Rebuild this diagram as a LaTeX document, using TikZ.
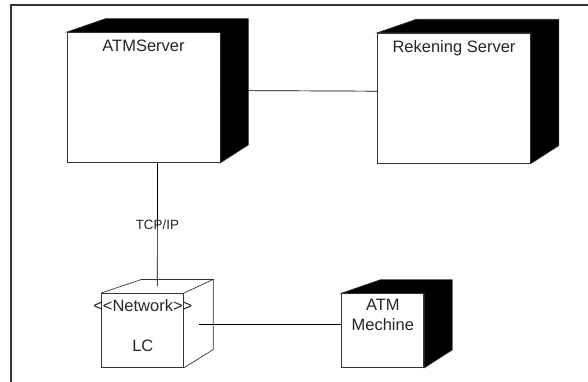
\documentclass[tikz,border=0pt]{standalone}
\usepackage{fontspec}
\setmainfont{Liberation Sans}
\usetikzlibrary{calc}
\begin{document}
\begin{tikzpicture}[x=1pt, y=-1pt, line width=0.7pt,
	nodeface/.style={draw=black!80, fill=white, minimum width=153pt, minimum height=130pt, inner sep=0pt},
	smallface/.style={nodeface, minimum width=82pt, minimum height=74pt},
	txt/.style={font=\fontsize{16.5}{19.7}\selectfont, text=black!85, inner sep=0pt, align=center},
	backface/.style={fill=black, draw=black!80}]
	\useasboundingbox (0,0) rectangle (588,382);
	\draw[line width=1.5pt, black!80] (11,382) -- (11,5) -- (588,5);
	\node[nodeface, label={[txt, anchor=north, yshift=-7pt]north:ATMServer}] (srv) at (143.5,97.5) {};
	\node[nodeface, label={[txt, anchor=north, yshift=-7pt]north:Rekening Server}] (rek) at (454,98.2) {};
	\node[smallface, label={[txt, anchor=north, yshift=-6pt]north:ATM\\Mechine}] (atm) at (382.8,330.6) {};
	\node[smallface, fill=none, label={[txt, anchor=north, yshift=-6.5pt]north:<\kern0pt<Network>\kern0pt>}, label={[txt, anchor=south, yshift=15.7pt]south:LC}] (lc) at (142.8,330.3) {};
	% schaduw
	\foreach \n in {srv,rek,atm}
		\filldraw[backface] (\n.north west) -- ($(\n.north west)+(39,-13.5)$) -- ($(\n.north east)+(28,-13.5)$) -- ($(\n.south east)+(28,-18)$) -- (\n.south east) -- (\n.north east) -- cycle;
	\draw[black!80] (lc.north west) -- ($(lc.north west)+(40,-13.5)$) -- ($(lc.north east)+(29,-13.5)$) -- (lc.north east);
	\draw[black!80] ($(lc.north east)+(29,-13.5)$) -- ($(lc.south east)+(29,-18)$) -- (lc.south east);
	% verbindingen
	\draw ([yshift=7pt]srv.east) -- ([yshift=7pt]rek.west);
	\draw ([xshift=14pt]srv.south) -- node[font=\fontsize{13.4}{16}\selectfont, text=black!85, inner sep=0pt] {TCP/IP} ([xshift=14.5pt, yshift=6.6pt]lc.north);
	\draw ([xshift=15pt, yshift=6.3pt]lc.east) -- ([yshift=6.6pt]atm.west);
\end{tikzpicture}
\end{document}
